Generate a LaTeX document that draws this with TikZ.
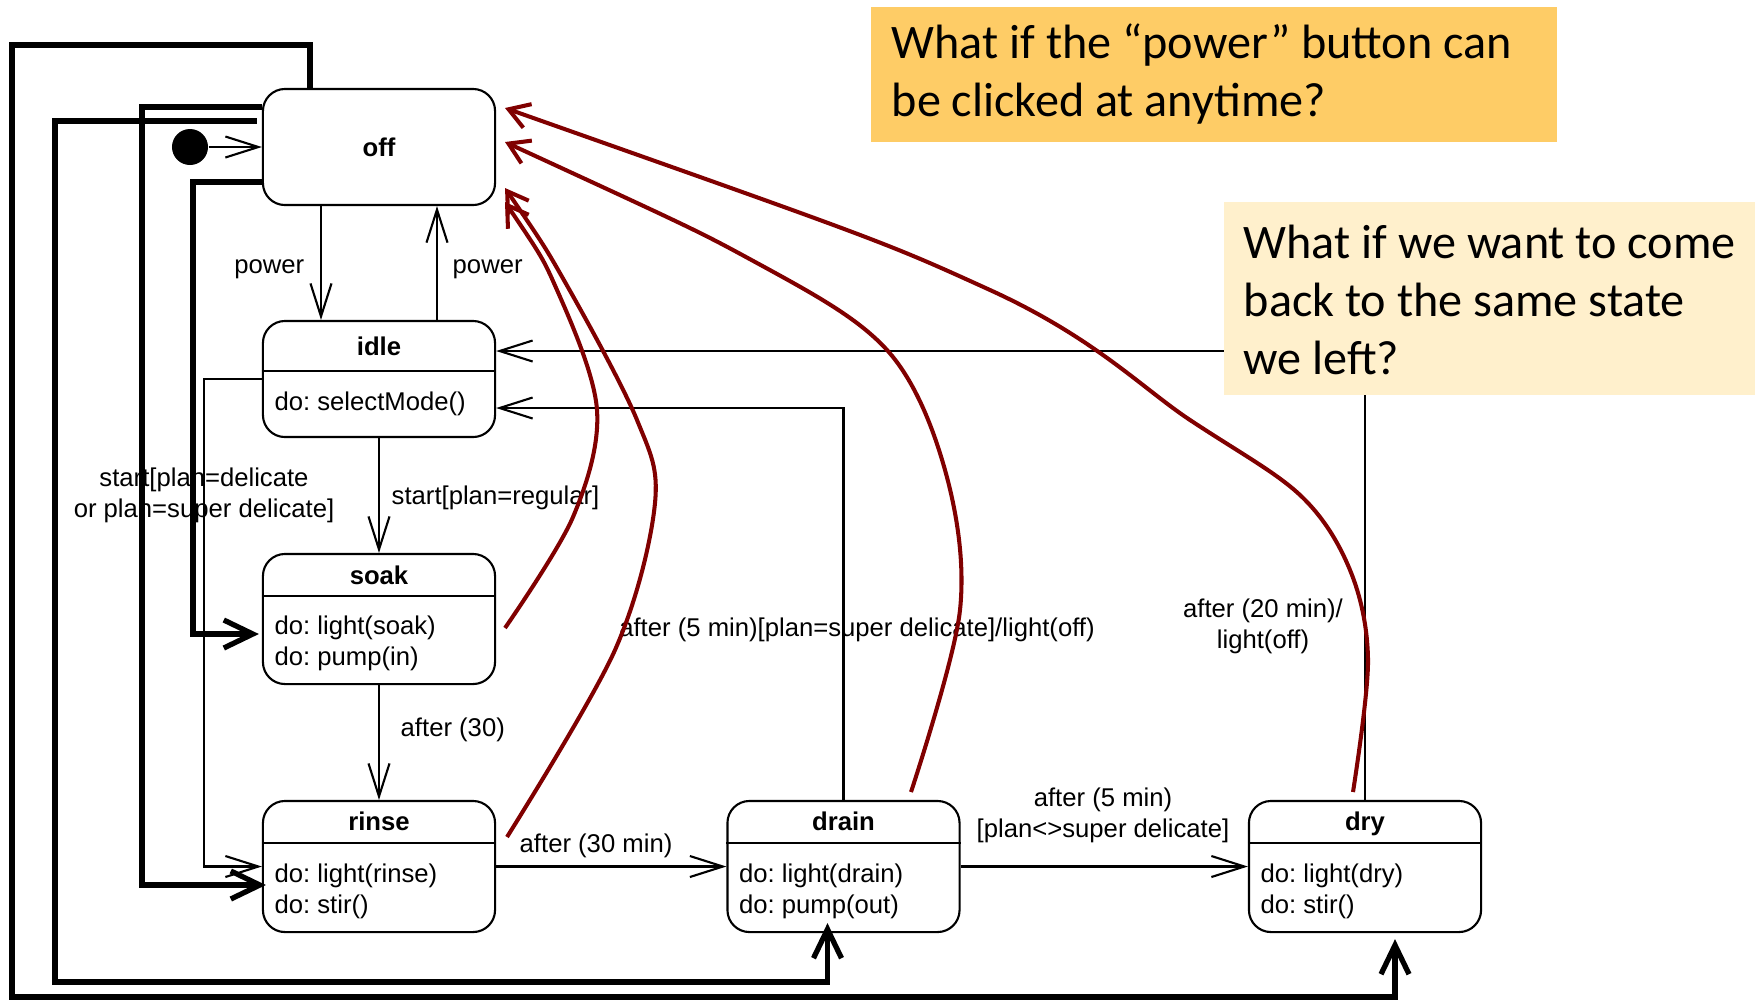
\documentclass[tikz,border=0pt]{standalone}
\usepackage{fontspec}
\setmainfont{Liberation Sans}
\newfontfamily\notefont{Carlito}
\usetikzlibrary{arrows.meta,calc}
\definecolor{curve}{RGB}{128,0,0}
\definecolor{noteA}{RGB}{254,204,102}
\definecolor{noteB}{RGB}{255,240,204}
\frenchspacing

\begin{document}
\begin{tikzpicture}[x=0.01cm,y=-0.01cm,
  every node/.style={inner sep=0pt, font=\fontsize{7.3pt}{8.8pt}\selectfont},
  lbl/.style={text height=0.73em, text depth=0.21em},
  mlbl/.style={align=center},
  state/.style={draw, line width=0.6pt, rounded corners=0.22cm, minimum width=2.32cm},
  ttl/.style={lbl, font=\fontsize{7.3pt}{8.8pt}\selectfont\bfseries},
  body/.style={lbl, anchor=west},
  thinarr/.style={line width=0.6pt, -{Straight Barb[length=0.33cm, width=0.21cm]}},
  thickarr/.style={line width=1.5pt, -{Straight Barb[length=0.29cm, width=0.28cm]}},
  redarr/.style={line width=1.15pt, draw=curve, {Straight Barb[length=0.2cm, width=0.25cm]}-},
  notetext/.style={align=left, font=\notefont\fontsize{13.7pt}{16.5pt}\selectfont},
]
\useasboundingbox (0,0) rectangle (1755,1005);

% ---- states ----
\node[state, minimum height=1.16cm] (off) at (379,147) {};
\node[ttl] at (off) {off};

\node[state, minimum height=1.16cm] (idle) at (379,379) {};
\draw[line width=0.6pt] ($(idle.north west)+(0,51)$) -- ($(idle.north east)+(0,51)$);
\node[ttl] at ($(idle.north)+(0,26)$) {idle};
\node[body] at ($(idle.north west)+(12,81)$) {do: selectMode()};

\node[state, minimum height=1.30cm] (soak) at (379,619) {};
\draw[line width=0.6pt] ($(soak.north west)+(0,43)$) -- ($(soak.north east)+(0,43)$);
\node[ttl] at ($(soak.north)+(0,22)$) {soak};
\node[body] at ($(soak.north west)+(12,72)$) {do: light(soak)};
\node[body] at ($(soak.north west)+(12,103)$) {do: pump(in)};

\node[state, minimum height=1.31cm] (rinse) at (379,866.5) {};
\draw[line width=0.6pt] ($(rinse.north west)+(0,43)$) -- ($(rinse.north east)+(0,43)$);
\node[ttl] at ($(rinse.north)+(0,21)$) {rinse};
\node[body] at ($(rinse.north west)+(12,73)$) {do: light(rinse)};
\node[body] at ($(rinse.north west)+(12,104)$) {do: stir()};

\node[state, minimum height=1.31cm] (drain) at (843.5,866.5) {};
\draw[line width=0.6pt] ($(drain.north west)+(0,43)$) -- ($(drain.north east)+(0,43)$);
\node[ttl] at ($(drain.north)+(0,21)$) {drain};
\node[body] at ($(drain.north west)+(12,73)$) {do: light(drain)};
\node[body] at ($(drain.north west)+(12,104)$) {do: pump(out)};

\node[state, minimum height=1.31cm] (dry) at (1365,866.5) {};
\draw[line width=0.6pt] ($(dry.north west)+(0,43)$) -- ($(dry.north east)+(0,43)$);
\node[ttl] at ($(dry.north)+(0,21)$) {dry};
\node[body] at ($(dry.north west)+(12,73)$) {do: light(dry)};
\node[body] at ($(dry.north west)+(12,104)$) {do: stir()};

% ---- initial pseudo-state ----
\node[circle, fill=black, minimum size=0.36cm] (init) at (190,147) {};
\draw[thinarr] (init) -- (off.west);

% ---- regular transitions ----
\draw[thinarr] ($(off.south)+(-58,0)$) -- ($(idle.north)+(-58,0)$);
\node[lbl, anchor=east] at (305,264) {power};
\draw[thinarr] ($(idle.north)+(58,0)$) -- ($(off.south)+(58,0)$);
\node[lbl, anchor=west] at (452,264) {power};

\draw[thinarr] (idle.south) -- (soak.north);
\node[lbl, anchor=west] at (391,495) {start[plan=regular]};

\coordinate (k1) at (204,379);
\draw[thinarr] (idle.west) -- (k1) |- (rinse.west);
\node[mlbl] at (204,495) {start[plan=delicate\\or plan=super delicate]};

\draw[thinarr] (soak.south) -- (rinse.north);
\node[lbl, anchor=west] at (400,727) {after (30)};

\draw[thinarr] (rinse.east) -- (drain.west);
\node[lbl, anchor=west] at (519,843) {after (30 min)};

\draw[thinarr] (drain.east) -- (dry.west);
\node[mlbl] at (1103,815) {after (5 min)\\{}[plan<>super delicate]};

\draw[thinarr] (drain.north) |- ($(idle.east)+(0,29)$);
\node[lbl] at (857,627) {after (5 min)[plan=super delicate]/light(off)};

\draw[thinarr] (dry.north) |- ($(idle.east)+(0,-28)$);
\node[mlbl] at (1263,626) {after (20 min)/\\light(off)};

% ---- power from every state ----
\coordinate (a1) at (310,45);
\coordinate (a2) at (12,997);
\draw[thickarr] ($(off.north)+(-69,0)$) |- (a1) -| (a2) -| ($(dry.south)+(30,6)$);
\coordinate (b1) at (55,121);
\coordinate (b2) at (55,982);
\draw[thickarr] ($(off.west)+(-5,-26)$) -- (b1) -- (b2) -| ($(drain.south)+(-16,-10)$);
\coordinate (c1) at (142,107);
\draw[thickarr] ($(off.west)+(0,-40)$) -- (c1) |- ($(rinse.west)+(4,18.5)$);
\coordinate (d1) at (193,182);
\draw[thickarr] ($(off.west)+(0,35)$) -- (d1) |- ($(soak.west)+(-3,15)$);

% ---- returns to off ----
\draw[redarr] plot[smooth, tension=0.55] coordinates {(505,108) (990,290) (1190,420) (1300,495) (1350,570) (1368,660) (1353,792)};
\draw[redarr] plot[smooth, tension=0.55] coordinates {(505,142) (757,263) (887,350) (945,470) (960,610) (911,792)};
\draw[redarr] plot[smooth, tension=0.55] coordinates {(505,202) (557,290) (597,410) (573,517) (505,628)};
\draw[redarr] plot[smooth, tension=0.55] coordinates {(505,188) (565,282) (637,420) (655,503) (615,650) (507,837)};

% ---- notes ----
\node[fill=noteA, minimum width=6.86cm, minimum height=1.35cm, anchor=north west] (q1) at (870,6) {};
\node[notetext, anchor=west] at ($(q1.west)+(21,0)$) {What if the “power” button can\\be clicked at anytime?};
\node[fill=noteB, minimum width=5.32cm, minimum height=1.93cm, anchor=north west] (q2) at (1223,201) {};
\node[notetext, anchor=west] at ($(q2.west)+(20,2)$) {What if we want to come\\back to the same state\\we left?};
\end{tikzpicture}
\end{document}
